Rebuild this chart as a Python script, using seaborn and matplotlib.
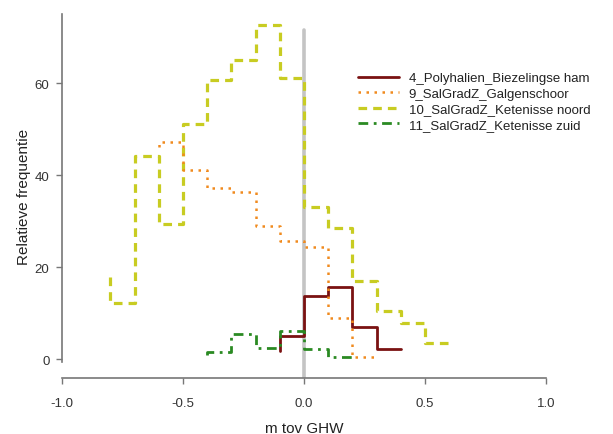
import numpy as np
import pandas as pd
import matplotlib
matplotlib.use('Agg')
import matplotlib.pyplot as plt
import seaborn as sns


# data (step levels, steps-pre)
poly_x = [-0.1, 0.0, 0.1, 0.2, 0.3, 0.4]
poly_y = [1.8, 5.1, 13.8, 15.6, 6.9, 2.2]

galg_x = [-0.6, -0.5, -0.4, -0.3, -0.2, -0.1, 0.0, 0.1, 0.2, 0.3]
galg_y = [46.0, 47.1, 41.2, 37.1, 36.3, 29.0, 25.7, 24.3, 9.0, 0.5]

ketn_x = [-0.8, -0.7, -0.6, -0.5, -0.4, -0.3, -0.2, -0.1, 0.0, 0.1, 0.2, 0.3, 0.4, 0.5, 0.6]
ketn_y = [17.8, 12.2, 44.2, 29.3, 51.2, 60.7, 64.9, 72.7, 61.2, 33.0, 28.6, 17.0, 10.5, 7.8, 3.5]

ketz_x = [-0.4, -0.3, -0.2, -0.1, 0.0, 0.1, 0.2]
ketz_y = [0.9, 1.5, 5.4, 2.5, 6.2, 2.2, 0.5]

labels = ['4_Polyhalien_Biezelingse ham', '9_SalGradZ_Galgenschoor',
          '10_SalGradZ_Ketenisse noord', '11_SalGradZ_Ketenisse zuid']

ref_top = 71.6
x_ticks = [-1.0, -0.5, 0.0, 0.5, 1.0]
y_ticks = [0, 20, 40, 60]


sns.set_style('white')
plt.rcParams['font.family'] = ['Liberation Sans', 'DejaVu Sans']

fig = plt.figure(figsize=(6.13, 4.35), dpi=100)
ax = fig.add_axes([62 / 613, (435 - 379) / 435, 484 / 613, 364 / 435])

ylo, yhi = -4.1, 75.0
ax.set_xlim(-1.0, 1.0)
ax.set_ylim(ylo, yhi)

# grey reference line at GHW
ax.axvline(0, ymin=0, ymax=(ref_top - ylo) / (yhi - ylo), color='#c4c4c4', lw=2.6, zorder=1)

sns.lineplot(x=poly_x, y=poly_y, ax=ax, drawstyle='steps-pre', color='#7a1212',
             lw=2.0, linestyle='-', label=labels[0], zorder=3)
sns.lineplot(x=galg_x, y=galg_y, ax=ax, drawstyle='steps-pre', color='#f08a1e',
             lw=1.8, linestyle=(0, (1, 2.2)), label=labels[1], zorder=3)
sns.lineplot(x=ketn_x, y=ketn_y, ax=ax, drawstyle='steps-pre', color='#c8cc22',
             lw=2.3, linestyle=(0, (2.7, 1.9)), label=labels[2], zorder=2)
sns.lineplot(x=ketz_x, y=ketz_y, ax=ax, drawstyle='steps-pre', color='#2a8a22',
             lw=2.0, linestyle=(0, (3.5, 2, 1, 2)), label=labels[3], zorder=3)

# R-like axes
for s in ['top', 'right']:
    ax.spines[s].set_visible(False)
for s in ['left', 'bottom']:
    ax.spines[s].set_color('#777777')
    ax.spines[s].set_linewidth(1.2)
ax.spines['left'].set_bounds(-0.7, yhi)
ax.spines['bottom'].set_bounds(-1.0, 1.0)

ax.set_xticks(x_ticks)
ax.set_xticklabels(['%.1f' % v for v in x_ticks])
ax.set_yticks(y_ticks)
ax.tick_params(axis='both', which='both', bottom=True, left=True, length=4, width=1.0,
               color='#777777', labelsize=9.5, labelcolor='#333333', direction='out')
ax.tick_params(axis='x', pad=10)
ax.tick_params(axis='y', pad=5)

ax.set_xlabel('m tov GHW', fontsize=11, color='#222222', labelpad=8)
ax.set_ylabel('Relatieve frequentie', fontsize=11, color='#222222', labelpad=3)

leg = ax.legend(loc='upper left', bbox_to_anchor=(358 / 613, 1 - 73 / 435),
                bbox_transform=fig.transFigure, frameon=False, fontsize=9.5,
                handlelength=3.1, handletextpad=0.75, labelspacing=0.25,
                borderpad=0, borderaxespad=0)
for t in leg.get_texts():
    t.set_color('#222222')

fig.savefig('out.png', dpi=100)
